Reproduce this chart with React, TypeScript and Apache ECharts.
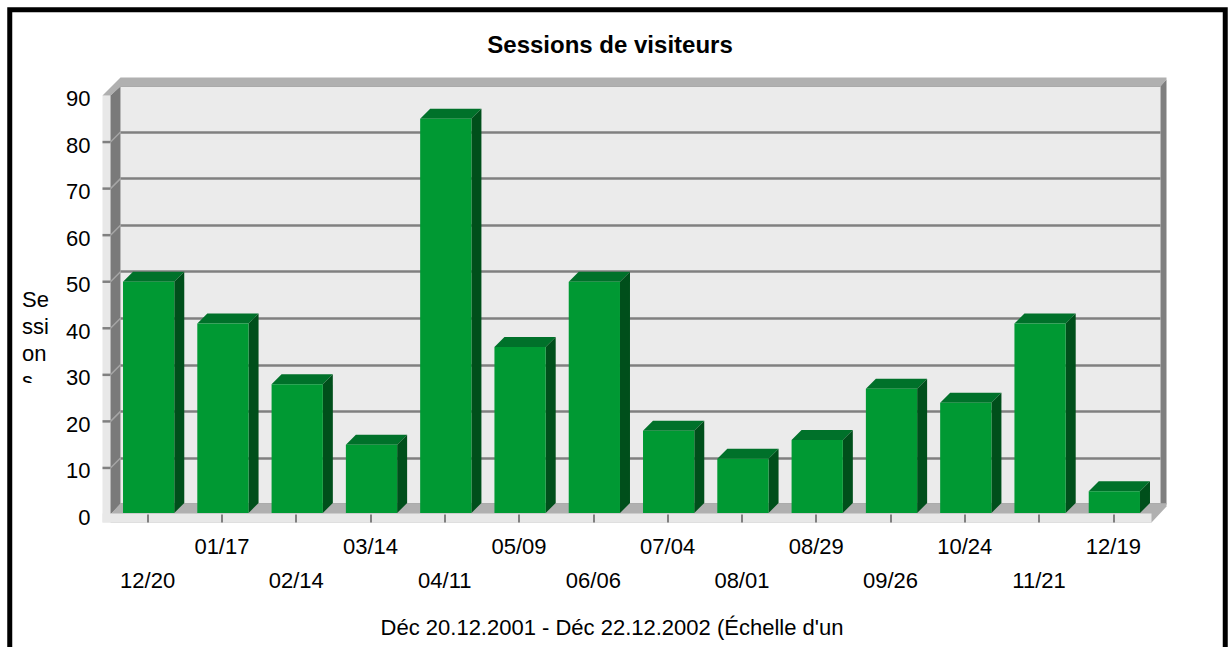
import React, { useEffect, useRef } from 'react';
import * as echarts from 'echarts';

const CATEGORIES = ['12/20', '01/17', '02/14', '03/14', '04/11', '05/09', '06/06', '07/04', '08/01', '08/29', '09/26', '10/24', '11/21', '12/19'];
const SESSIONS = [50, 41, 28, 15, 85, 36, 50, 18, 12, 16, 27, 24, 41, 5];
const Y_MIN = 0;
const Y_MAX = 90;
const Y_STEP = 10;
const TITLE = 'Sessions de visiteurs';
const Y_NAME_LINES = ['Se', 'ssi', 'on', 's'];
const X_NAME = "Déc 20.12.2001 - Déc 22.12.2002 (Échelle d'un";

const FONT = "'Liberation Sans', Arial, sans-serif";
// front plane of the 3D plot box
const GL = 110.5;
const GW = 1040;
const GT = 95.5;
const GH = 419;
const GR = GL + GW;
const GB = GT + GH;
const DX = 10;
const DY = 10;

const FRONT = '#009933';
const TOP = '#00712a';
const SIDE = '#004f1b';

export default function App() {
  const ref = useRef<HTMLDivElement>(null);
  useEffect(() => {
    document.body.style.margin = '0';
    const chart = echarts.init(ref.current!, null, { renderer: 'svg' });
    const option: any = {
      animation: false,
      backgroundColor: '#ffffff',
      title: {
        text: TITLE,
        left: 610,
        top: 32,
        textAlign: 'center',
        padding: 0,
        textStyle: { fontFamily: FONT, fontSize: 24, fontWeight: 'bold', color: '#000' },
      },
      grid: [
        { left: GL, top: GT, width: GW, height: GH, show: false },
        { left: GL + DX, top: GT - DY, width: GW, height: GH, show: true, backgroundColor: '#ebebeb', borderWidth: 0 },
      ],
      xAxis: [
        {
          type: 'category',
          gridIndex: 0,
          data: CATEGORIES,
          z: 3,
          axisLine: { show: false },
          axisTick: { show: true, alignWithLabel: true, length: 8, lineStyle: { color: '#808080', width: 2 } },
          axisLabel: {
            interval: 0,
            margin: 15,
            fontFamily: FONT,
            fontSize: 22,
            lineHeight: 34,
            color: '#000',
            formatter: (v: string, i: number) => (i % 2 === 0 ? '\n' + v : v),
          },
        },
        { type: 'category', gridIndex: 1, data: CATEGORIES, show: false },
      ],
      yAxis: [
        {
          type: 'value',
          gridIndex: 0,
          min: Y_MIN,
          max: Y_MAX,
          interval: Y_STEP,
          axisLine: { show: false },
          axisTick: { show: false },
          splitLine: { show: false },
          axisLabel: {
            margin: 20, fontFamily: FONT, fontSize: 22, color: '#000',
            verticalAlign: 'top', lineHeight: 6,
          },
        },
        {
          type: 'value',
          gridIndex: 1,
          min: Y_MIN,
          max: Y_MAX,
          interval: Y_STEP,
          axisLine: { show: false },
          axisTick: { show: false },
          axisLabel: { show: false },
          splitLine: { show: true, lineStyle: { color: '#808080', width: 2.5 } },
        },
      ],
      series: [
        {
          type: 'custom',
          xAxisIndex: 0,
          yAxisIndex: 0,
          z: 4,
          clip: false,
          data: SESSIONS.map((v, i) => [i, v]),
          encode: { x: 0, y: 1 },
          renderItem: (_params: any, api: any) => {
            const i = api.value(0);
            const v = api.value(1);
            const top = api.coord([i, v]);
            const base = api.coord([i, 0]);
            const band = api.size([1, 0])[0];
            const w = band * 0.69;
            const x0 = top[0] - w / 2 + 1;
            const x1 = x0 + w;
            const yT = top[1];
            const yB = base[1] - 1.5;
            return {
              type: 'group',
              children: [
                {
                  type: 'polygon',
                  shape: { points: [[x0, yT], [x0 + DX, yT - DY], [x1 + DX, yT - DY], [x1, yT]] },
                  style: { fill: TOP },
                },
                {
                  type: 'polygon',
                  shape: { points: [[x1, yT], [x1 + DX, yT - DY], [x1 + DX, yB - DY], [x1, yB]] },
                  style: { fill: SIDE },
                },
                {
                  type: 'rect',
                  shape: { x: x0, y: yT, width: w, height: yB - yT },
                  style: { fill: FRONT },
                },
              ],
            };
          },
        },
      ],
    };
    chart.setOption(option);

    const yPix = (v: number) => chart.convertToPixel({ yAxisIndex: 0 }, v) as number;
    const inner: any[] = [];
    for (let v = Y_MIN + Y_STEP; v < Y_MAX; v += Y_STEP) {
      const y = yPix(v);
      inner.push({
        type: 'line',
        silent: true,
        z: 1,
        shape: { x1: GL, y1: y, x2: GL + DX, y2: y - DY },
        style: { stroke: '#a6a6a6', lineWidth: 1.5 },
      });
      inner.push({
        type: 'line',
        silent: true,
        z: 1,
        shape: { x1: GL - 8, y1: y, x2: GL, y2: y },
        style: { stroke: '#808080', lineWidth: 2.5 },
      });
    }

    const graphic: any[] = [
      {
        type: 'rect', silent: true, z: 1,
        shape: { x: GL - 8, y: GT, width: 8, height: GH + 8 },
        style: { fill: '#e8e8e8' },
      },
      {
        type: 'polygon', silent: true, z: 1,
        shape: { points: [[GL, GT], [GL + DX, GT - DY], [GL + DX, GB - DY], [GL, GB]] },
        style: { fill: '#7a7a7a' },
      },
      ...inner,
      {
        type: 'polygon', silent: true, z: 1,
        shape: { points: [[GR + DX, GT - DY], [GR + DX + 6, GT - DY - 6], [GR + DX + 6, GB - DY], [GR + DX, GB - DY]] },
        style: { fill: '#7f7f7f' },
      },
      {
        type: 'polygon', silent: true, z: 1,
        shape: {
          points: [
            [GL - 8, GT], [GL + DX, GT - DY - 8], [GR + DX + 6, GT - DY - 8], [GR + DX + 6, GT - DY - 6],
            [GR + DX, GT - DY + 1.3], [GL + DX, GT - DY + 1.3], [GL, GT],
          ],
        },
        style: { fill: '#b0b0b0' },
      },
      {
        type: 'polygon', silent: true, z: 1,
        shape: {
          points: [
            [GL, GB], [GL + DX, GB - DY - 1.3], [GR + DX + 6, GB - DY - 1.3], [GR + DX + 6, GB - DY + 2],
            [GR + 1, GB + 8], [GL, GB + 8],
          ],
        },
        style: { fill: '#b0b0b0' },
      },
      {
        type: 'rect', silent: true, z: 1,
        shape: { x: GL - 8, y: GB - 1, width: GR + 1 - (GL - 8), height: 9 },
        style: { fill: '#e8e8e8' },
      },
      {
        type: 'text', silent: true, z: 5,
        x: 22, y: 286,
        style: {
          text: Y_NAME_LINES.join('\n'),
          fontFamily: FONT, fontSize: 22, lineHeight: 27, fill: '#000',
          align: 'left', verticalAlign: 'top',
        },
      },
      {
        type: 'rect', silent: true, z: 6,
        shape: { x: 14, y: 383, width: 42, height: 20 },
        style: { fill: '#ffffff' },
      },
      {
        type: 'text', silent: true, z: 5,
        x: 612, y: 627,
        style: {
          text: X_NAME,
          fontFamily: FONT, fontSize: 22, fill: '#000',
          align: 'center', verticalAlign: 'middle',
        },
      },
      {
        type: 'rect', silent: true, z: 10,
        shape: { x: 9.75, y: 9.75, width: 1215.5, height: 700 },
        style: { fill: 'none', stroke: '#000', lineWidth: 5 },
      },
    ];
    chart.setOption({ graphic });
    return () => chart.dispose();
  }, []);
  return <div ref={ref} style={{ width: 1229, height: 647 }} />;
}
